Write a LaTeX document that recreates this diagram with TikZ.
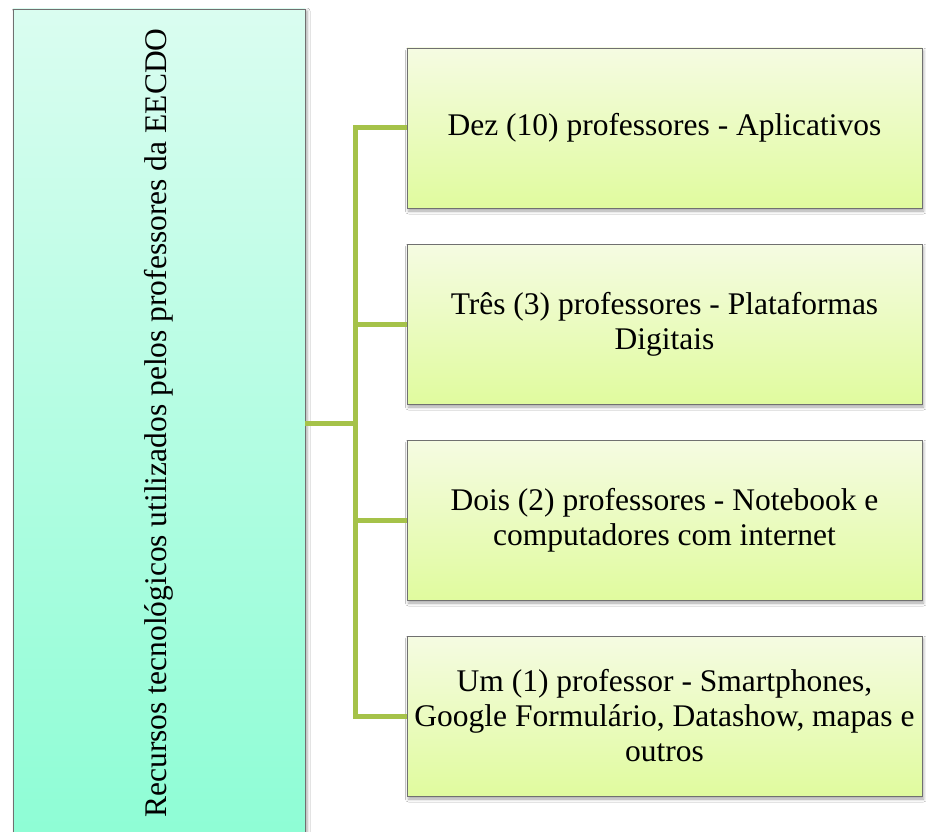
\documentclass[tikz,border=0pt]{standalone}
\usepackage{fontspec}
\setmainfont{Liberation Serif}
\newfontfamily\tnr{Liberation Serif}
\usetikzlibrary{shadows.blur}
\definecolor{conncol}{RGB}{165,194,73}
\definecolor{boxline}{RGB}{112,112,112}
\definecolor{lefttop}{RGB}{218,253,240}
\definecolor{leftbot}{RGB}{142,253,213}
\definecolor{righttop}{RGB}{245,251,226}
\definecolor{rightbot}{RGB}{224,251,158}
\tikzset{
  x=1pt, y=-1pt,
  rbox/.style={draw=boxline, line width=0.9pt, shading=axis, top color=righttop, bottom color=rightbot,
    minimum width=515pt, minimum height=160pt, inner sep=4pt, align=center,
    font=\tnr\fontsize{31.5}{35}\selectfont,
    blur shadow={shadow xshift=1.5pt, shadow yshift=-3pt, shadow blur radius=3pt, shadow opacity=35}},
  lbox/.style={draw=boxline, line width=0.9pt, shading=axis, top color=lefttop, bottom color=leftbot,
    minimum width=292pt, minimum height=828pt, inner sep=0pt,
    blur shadow={shadow xshift=2pt, shadow yshift=-2pt, shadow blur radius=3pt, shadow opacity=35}},
  ltext/.style={rotate=90, font=\tnr\fontsize{31.5}{35}\selectfont, inner sep=0pt},
  conn/.style={draw=conncol, line width=5pt, line join=miter}
}
\begin{document}
\begin{tikzpicture}
\useasboundingbox (0,0) rectangle (926,832);
\fill[white] (0,0) rectangle (926,832);
\begin{scope}
\clip (0,0) rectangle (926,832);
\node[lbox] (left) at (159,423) {};
\end{scope}
\node[ltext] (lefttext) at (159,423) {Recursos tecnológicos utilizados pelos professores da EECDO};
\node[rbox] (b1) at (664.5,128) {Dez (10) professores - Aplicativos};
\node[rbox] (b2) at (664.5,324) {Três (3) professores - Plataformas\\Digitais};
\node[rbox] (b3) at (664.5,520) {Dois (2) professores - Notebook e\\computadores com internet};
\node[rbox] (b4) at (664.5,716) {Um (1) professor - Smartphones,\\Google Formulário, Datashow, mapas e\\outros};
\coordinate (bus) at (355,423);
\draw[conn] (left.east) -- (bus);
\draw[conn] (b1.west) -| (bus |- b4.west) -- (b4.west);
\draw[conn] (b2.west) -- (b2.west -| bus);
\draw[conn] (b3.west) -- (b3.west -| bus);
\end{tikzpicture}
\end{document}
